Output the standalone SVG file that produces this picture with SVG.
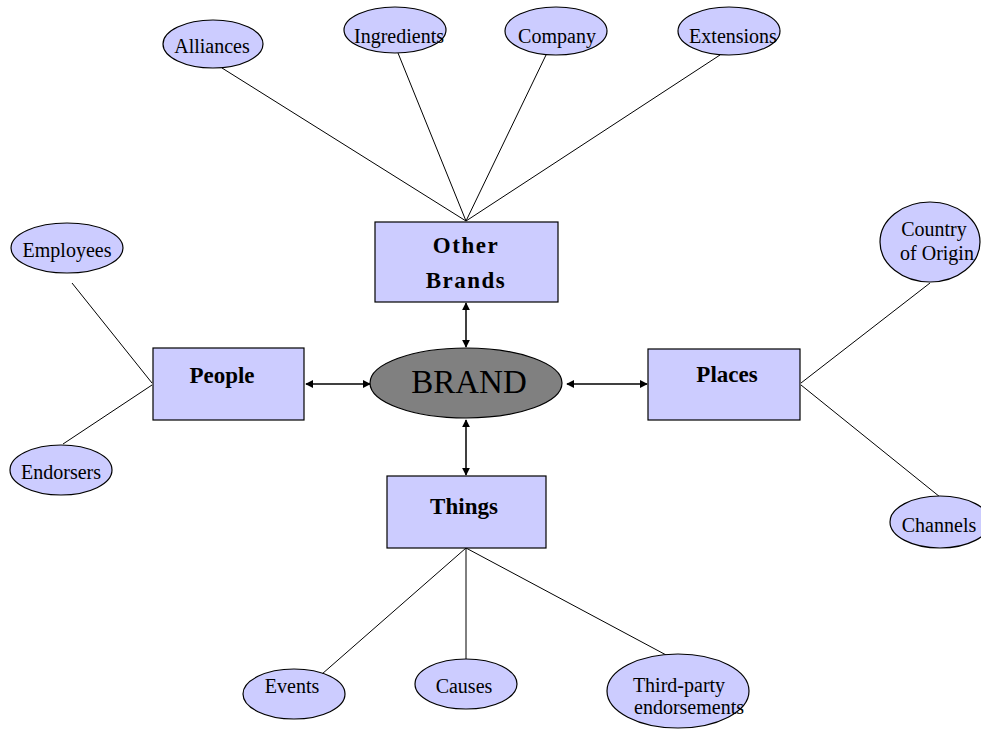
<svg xmlns="http://www.w3.org/2000/svg" width="981" height="737" viewBox="0 0 981 737">
  <style>
    text { fill: #000; text-anchor: middle; }
    .leaf ellipse { fill: #ccccff; stroke: #000; stroke-width: 1.2; }
    .leaf text { font-size: 20px; }
    .box rect { fill: #ccccff; stroke: #000; stroke-width: 1.2; }
    .box text { font-size: 23px; font-weight: bold; }
    .link { stroke: #000; stroke-width: 1; fill: none; }
    .arrow { stroke: #000; stroke-width: 1.5; fill: none; marker-start: url(#head); marker-end: url(#head); }
  </style>
  <defs>
    <marker id="head" viewBox="0 0 10 10" refX="9" refY="5" markerWidth="8" markerHeight="8" orient="auto-start-reverse" markerUnits="userSpaceOnUse">
      <path d="M0,0 L10,5 L0,10 z" fill="#000"/>
    </marker>
  </defs>

  <!-- connectors -->
  <g id="connectors">
    <line class="link" x1="222" y1="68" x2="466" y2="221"/>
    <line class="link" x1="398" y1="53" x2="466" y2="221"/>
    <line class="link" x1="546" y1="55" x2="466" y2="221"/>
    <line class="link" x1="720" y1="55" x2="466" y2="221"/>
    <line class="link" x1="72" y1="283" x2="152" y2="383"/>
    <line class="link" x1="63" y1="444" x2="152" y2="385"/>
    <line class="link" x1="801" y1="383" x2="930" y2="283"/>
    <line class="link" x1="801" y1="385" x2="940" y2="497"/>
    <line class="link" x1="466" y1="548" x2="322" y2="674"/>
    <line class="link" x1="466" y1="548" x2="466" y2="659"/>
    <line class="link" x1="466" y1="548" x2="668" y2="656"/>
    <line class="arrow" x1="466" y1="303" x2="466" y2="347"/>
    <line class="arrow" x1="306" y1="384" x2="370" y2="384"/>
    <line class="arrow" x1="567" y1="384" x2="647" y2="384"/>
    <line class="arrow" x1="466" y1="420" x2="466" y2="475"/>
  </g>

  <g font-family="Liberation Serif, Times New Roman, serif">
    <!-- central node -->
    <g id="brand">
      <ellipse cx="466" cy="383" rx="96" ry="35" fill="#808080" stroke="#000" stroke-width="1.2"/>
      <text x="469" y="393" font-size="33">BRAND</text>
    </g>

    <!-- category boxes -->
    <g id="other-brands" class="box">
      <rect x="375" y="222" width="183" height="80"/>
      <text x="466" y="253" letter-spacing="1.5">Other</text>
      <text x="466" y="288" letter-spacing="1.5">Brands</text>
    </g>
    <g id="people" class="box">
      <rect x="153" y="348" width="151" height="72"/>
      <text x="222" y="383">People</text>
    </g>
    <g id="places" class="box">
      <rect x="648" y="349" width="152" height="71"/>
      <text x="727" y="382">Places</text>
    </g>
    <g id="things" class="box">
      <rect x="387" y="476" width="159" height="72"/>
      <text x="464" y="514">Things</text>
    </g>

    <!-- leaf nodes -->
    <g id="alliances" class="leaf">
      <ellipse cx="213" cy="44" rx="50" ry="24"/>
      <text x="212" y="53">Alliances</text>
    </g>
    <g id="ingredients" class="leaf">
      <ellipse cx="395" cy="30" rx="51" ry="23"/>
      <text x="399" y="43">Ingredients</text>
    </g>
    <g id="company" class="leaf">
      <ellipse cx="556" cy="31" rx="51" ry="24"/>
      <text x="557" y="43">Company</text>
    </g>
    <g id="extensions" class="leaf">
      <ellipse cx="729" cy="31" rx="51" ry="24"/>
      <text x="733" y="43">Extensions</text>
    </g>
    <g id="employees" class="leaf">
      <ellipse cx="67" cy="248" rx="56" ry="25"/>
      <text x="67" y="257">Employees</text>
    </g>
    <g id="endorsers" class="leaf">
      <ellipse cx="61" cy="470" rx="51" ry="25"/>
      <text x="61" y="479">Endorsers</text>
    </g>
    <g id="country-of-origin" class="leaf">
      <ellipse cx="930" cy="242" rx="50" ry="40"/>
      <text x="934" y="236">Country</text>
      <text x="937" y="260">of Origin</text>
    </g>
    <g id="channels" class="leaf">
      <ellipse cx="940" cy="522" rx="50" ry="26"/>
      <text x="939" y="532">Channels</text>
    </g>
    <g id="events" class="leaf">
      <ellipse cx="294" cy="694" rx="51" ry="25"/>
      <text x="292" y="693">Events</text>
    </g>
    <g id="causes" class="leaf">
      <ellipse cx="466" cy="684" rx="51" ry="25"/>
      <text x="464" y="693">Causes</text>
    </g>
    <g id="third-party" class="leaf">
      <ellipse cx="678" cy="691" rx="71" ry="37"/>
      <text x="679" y="692">Third-party</text>
      <text x="689" y="714">endorsements</text>
    </g>
  </g>
</svg>
